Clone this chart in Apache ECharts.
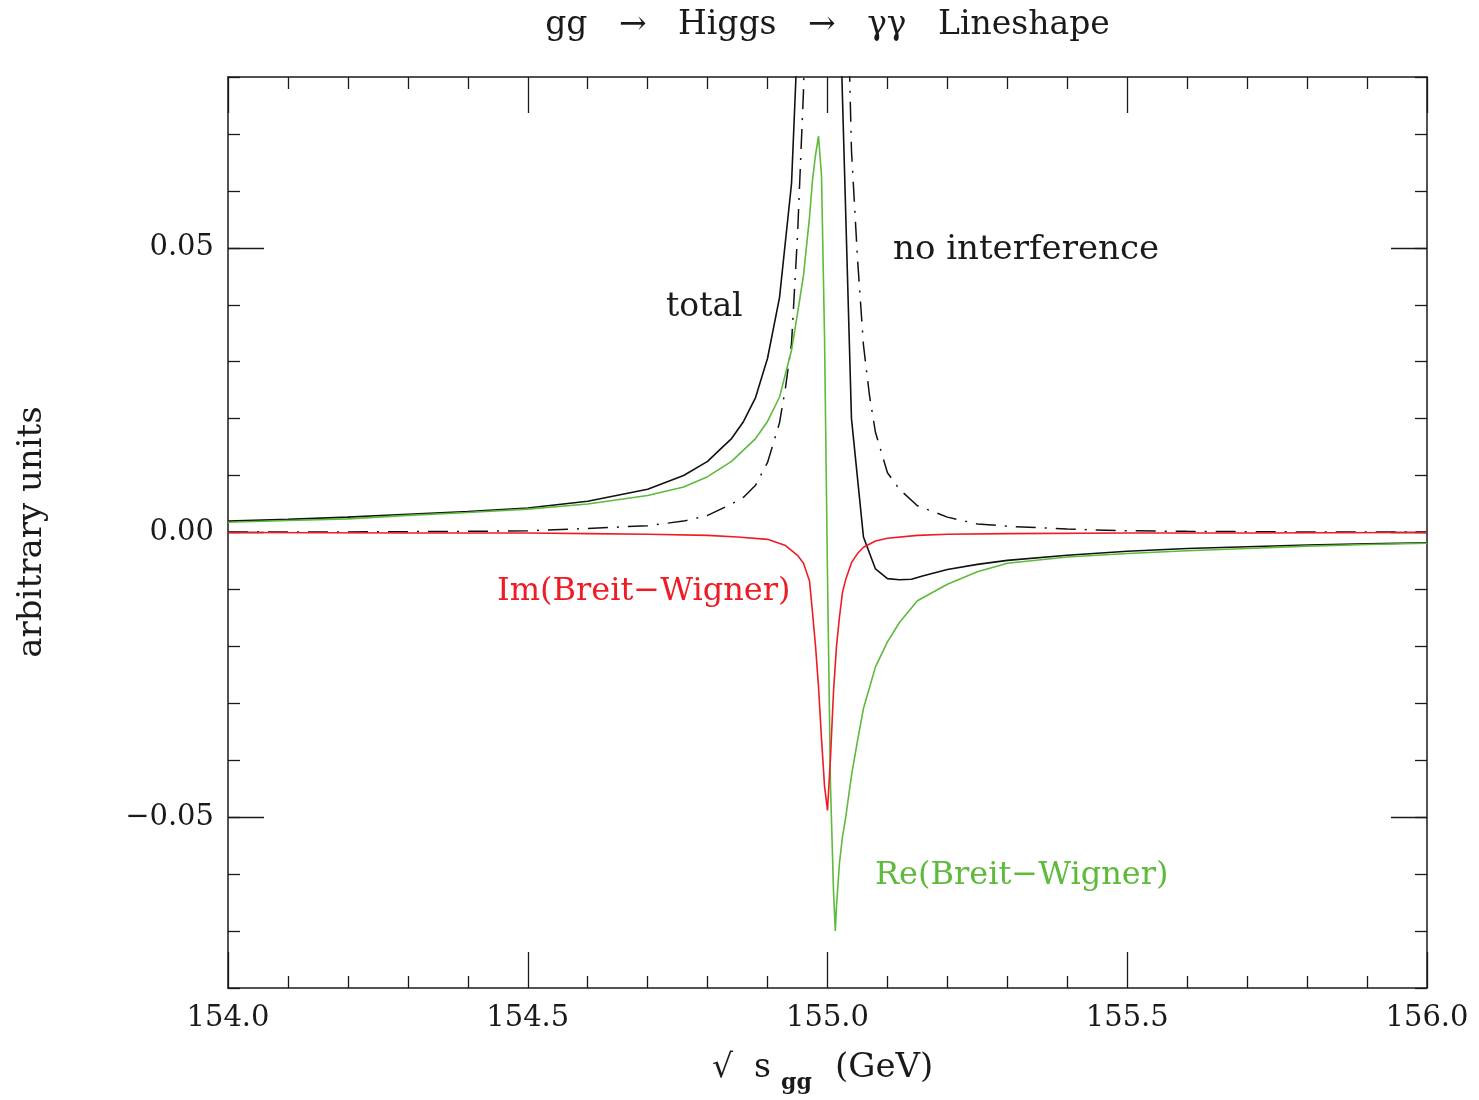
<!DOCTYPE html>
<html>
<head>
<meta charset="utf-8">
<script src="https://cdn.jsdelivr.net/npm/echarts@6/dist/echarts.min.js"></script>
<style>
  html, body { margin: 0; padding: 0; background: #fff; }
  #chart { width: 1479px; height: 1100px; }
</style>
</head>
<body>
<div id="chart"></div>
<script>
// values (GeV, arbitrary units)
const totalX = [154.0, 154.1, 154.2, 154.3, 154.4, 154.5, 154.6, 154.7, 154.76, 154.8, 154.82, 154.84, 154.86, 154.88, 154.9, 154.92, 154.94, 154.96, 154.98, 155.0, 155.02, 155.04, 155.06, 155.08, 155.1, 155.12, 155.14, 155.16, 155.2, 155.25, 155.3, 155.4, 155.5, 155.6, 155.7, 155.8, 155.9, 156.0];
const totalY = [0.0020, 0.0023, 0.0027, 0.0032, 0.0037, 0.0043, 0.0055, 0.0076, 0.0100, 0.0125, 0.0145, 0.0165, 0.0195, 0.0237, 0.0306, 0.0413, 0.0613, 0.112, 0.25, 0.5, 0.095, 0.0200, -0.0008, -0.0064, -0.0081, -0.0083, -0.0082, -0.0076, -0.0065, -0.0056, -0.0049, -0.0040, -0.0033, -0.0028, -0.0025, -0.0022, -0.0020, -0.0018];

const noIntX = [154.0, 154.2, 154.4, 154.5, 154.6, 154.7, 154.76, 154.8, 154.84, 154.86, 154.88, 154.9, 154.92, 154.93, 154.94, 154.95, 154.96, 154.97, 154.98, 154.99, 155.0, 155.01, 155.02, 155.03, 155.04, 155.05, 155.06, 155.07, 155.08, 155.1, 155.12, 155.15, 155.2, 155.25, 155.3, 155.4, 155.5, 155.6, 155.8, 156.0];
const noIntY = [0.0001, 0.0001, 0.0002, 0.0003, 0.0007, 0.0012, 0.0020, 0.0030, 0.0050, 0.0062, 0.0083, 0.0123, 0.0193, 0.0255, 0.0332, 0.0522, 0.0777, 0.12, 0.2, 0.4, 0.5, 0.4, 0.2, 0.11, 0.0671, 0.0482, 0.0329, 0.0241, 0.0176, 0.0105, 0.0076, 0.0047, 0.0027, 0.0015, 0.0011, 0.0006, 0.0003, 0.0002, 0.0001, 0.0001];

const reX = [154.0, 154.1, 154.2, 154.3, 154.4, 154.5, 154.6, 154.7, 154.76, 154.8, 154.84, 154.88, 154.9, 154.92, 154.94, 154.95, 154.96, 154.97, 154.975, 154.98, 154.985, 154.99, 154.995, 155.0, 155.005, 155.01, 155.013, 155.015, 155.02, 155.025, 155.03, 155.04, 155.05, 155.06, 155.08, 155.1, 155.12, 155.15, 155.2, 155.25, 155.3, 155.4, 155.5, 155.6, 155.7, 155.8, 155.9, 156.0];
const reY = [0.0018, 0.0021, 0.0024, 0.0030, 0.0035, 0.0041, 0.0050, 0.0065, 0.0080, 0.0098, 0.0125, 0.0165, 0.0195, 0.0238, 0.0320, 0.0385, 0.0452, 0.0554, 0.0619, 0.0663, 0.0696, 0.0627, 0.0346, -0.0076, -0.0445, -0.0629, -0.0700, -0.0656, -0.0580, -0.0534, -0.0503, -0.0427, -0.0366, -0.0309, -0.0236, -0.0192, -0.0158, -0.0120, -0.0091, -0.0069, -0.0054, -0.0043, -0.0037, -0.0032, -0.0028, -0.0024, -0.0021, -0.0019];

const imX = [154.0, 154.3, 154.5, 154.6, 154.7, 154.8, 154.85, 154.9, 154.93, 154.95, 154.96, 154.97, 154.975, 154.98, 154.985, 154.99, 154.995, 155.0, 155.005, 155.01, 155.015, 155.02, 155.025, 155.03, 155.04, 155.05, 155.06, 155.08, 155.1, 155.15, 155.2, 155.3, 155.5, 155.7, 156.0];
const imY = [0.0, -0.0001, -0.0001, -0.0002, -0.0003, -0.0005, -0.0008, -0.0012, -0.0023, -0.0040, -0.0054, -0.0085, -0.0141, -0.0199, -0.0271, -0.0362, -0.0445, -0.0488, -0.0395, -0.0280, -0.0200, -0.0148, -0.0105, -0.0084, -0.0053, -0.0037, -0.0026, -0.0015, -0.0010, -0.0005, -0.0003, -0.0002, -0.0001, -0.0001, 0.0];

const yMajor = [-0.05, 0, 0.05];

const FONT = '"DejaVu Serif", "Liberation Serif", serif';
const INK = '#1a1a1a';
const RED = '#ee1c24';
const GREEN = '#5dba3b';

function pairs(xs, ys) {
  return xs.map((x, i) => [x, ys[i]]);
}

function yLabel(v) {
  if (Math.abs(v) < 1e-9) return '0.00';
  return v < 0 ? '\u2212' + Math.abs(v).toFixed(2) : v.toFixed(2);
}

const frame = { show: true, onZero: false, lineStyle: { color: INK, width: 1.5 } };
const tickLine = { color: INK, width: 1.3 };

function xAxis(pos, labels) {
  return {
    type: 'value', position: pos, min: 154, max: 156, interval: 0.5,
    axisLine: frame,
    axisTick: { show: true, inside: true, length: 36, lineStyle: tickLine },
    minorTick: { show: true, splitNumber: 5, length: 12, lineStyle: tickLine },
    splitLine: { show: false },
    minorSplitLine: { show: false },
    axisLabel: {
      show: labels, margin: 16, color: INK, fontFamily: FONT, fontSize: 29,
      formatter: (v) => v.toFixed(1)
    }
  };
}

function yMinorAxis(pos, labels) {
  return {
    type: 'value', position: pos, min: -0.08, max: 0.08, interval: 0.01,
    axisLine: frame,
    axisTick: { show: true, inside: true, length: 12, lineStyle: tickLine },
    splitLine: { show: false },
    axisLabel: {
      show: labels, margin: 14, color: INK, fontFamily: FONT, fontSize: 29,
      customValues: yMajor, formatter: yLabel
    }
  };
}

function yMajorAxis(pos) {
  return {
    type: 'value', position: pos, min: -0.08, max: 0.08, interval: 0.01,
    axisLine: { show: false, onZero: false },
    axisTick: { show: true, inside: true, length: 36, customValues: yMajor, lineStyle: tickLine },
    splitLine: { show: false },
    axisLabel: { show: false }
  };
}

function note(x, y, text, color, size) {
  return { type: 'text', x: x, y: y, style: { text: text, font: size + 'px ' + FONT, fill: color, verticalAlign: 'middle' } };
}

const chart = echarts.init(document.getElementById('chart'));

chart.setOption({
  animation: false,
  backgroundColor: '#fff',
  grid: { left: 228, right: 52, top: 77, bottom: 112 },
  xAxis: [xAxis('bottom', true), xAxis('top', false)],
  yAxis: [yMinorAxis('left', true), yMajorAxis('left'), yMinorAxis('right', false), yMajorAxis('right')],
  series: [
    {
      name: 'no interference', type: 'line', data: pairs(noIntX, noIntY),
      showSymbol: false, clip: true,
      lineStyle: { color: '#111', width: 1.5, type: [20, 9, 2, 9] }
    },
    {
      name: 'total', type: 'line', data: pairs(totalX, totalY),
      showSymbol: false, clip: true,
      lineStyle: { color: '#111', width: 1.6 }
    },
    {
      name: 'Re(Breit-Wigner)', type: 'line', data: pairs(reX, reY),
      showSymbol: false, clip: true,
      lineStyle: { color: GREEN, width: 1.6 }
    },
    {
      name: 'Im(Breit-Wigner)', type: 'line', data: pairs(imX, imY),
      showSymbol: false, clip: true,
      lineStyle: { color: RED, width: 1.6 }
    }
  ],
  graphic: [
    { type: 'text', x: 827.5, y: 25, style: { text: 'gg   \u2192   Higgs   \u2192   \u03b3\u03b3   Lineshape', font: '33px ' + FONT, fill: INK, align: 'center', verticalAlign: 'middle' } },
    note(666, 307, 'total', INK, 33),
    note(893, 250, 'no interference', INK, 34),
    note(497, 592, 'Im(Breit\u2212Wigner)', RED, 32),
    note(875, 876, 'Re(Breit\u2212Wigner)', GREEN, 32),
    { type: 'text', x: 32, y: 532, rotation: Math.PI / 2, style: { text: 'arbitrary units', font: '34px ' + FONT, fill: INK, align: 'center', verticalAlign: 'middle' } },
    note(712, 1068, '\u221a  s', INK, 33),
    { type: 'text', x: 781, y: 1083, style: { text: 'gg', font: 'bold 22px ' + FONT, fill: INK, verticalAlign: 'middle' } },
    note(835, 1068, '(GeV)', INK, 34)
  ]
});
</script>
</body>
</html>
